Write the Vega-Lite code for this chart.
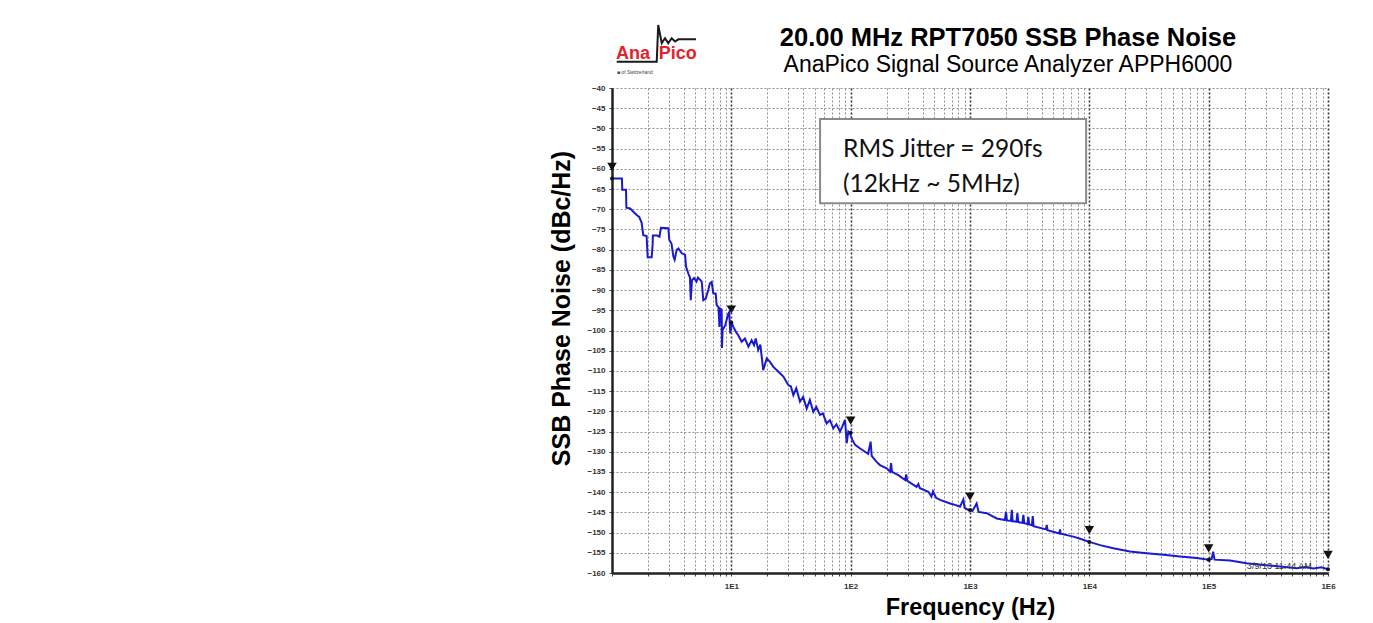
{
  "$schema": "https://vega.github.io/schema/vega-lite/v6.json",
  "width": 716,
  "height": 485,
  "autosize": {"type": "none"},
  "padding": {"left": 612, "top": 88, "right": 45, "bottom": 50},
  "background": "white",
  "config": {
    "view": {"stroke": null},
    "font": "Liberation Sans"
  },
  "title": {
    "text": "20.00 MHz RPT7050 SSB Phase Noise",
    "subtitle": "AnaPico Signal Source Analyzer APPH6000",
    "font": "Liberation Sans",
    "fontSize": 25.5,
    "fontWeight": "bold",
    "color": "#000000",
    "subtitleFont": "Liberation Sans",
    "subtitleFontSize": 23,
    "subtitleColor": "#000000",
    "subtitlePadding": 2,
    "anchor": "middle",
    "frame": "group",
    "dx": 38,
    "offset": -56
  },
  "datasets": {
    "noise": [
      {"f": 1, "db": -62.4}, {"f": 1.21, "db": -62.4}, {"f": 1.22, "db": -65.2}, {"f": 1.31, "db": -65.2},
      {"f": 1.32, "db": -69.6}, {"f": 1.42, "db": -69.8}, {"f": 1.51, "db": -70.6}, {"f": 1.61, "db": -71.4},
      {"f": 1.69, "db": -71.9}, {"f": 1.77, "db": -73.3}, {"f": 1.83, "db": -76.4}, {"f": 1.95, "db": -76.6},
      {"f": 1.99, "db": -81.9}, {"f": 2.15, "db": -81.9}, {"f": 2.19, "db": -78.8}, {"f": 2.2, "db": -76.5},
      {"f": 2.4, "db": -76.5}, {"f": 2.5, "db": -76.8}, {"f": 2.57, "db": -74.6}, {"f": 2.97, "db": -74.7},
      {"f": 3.02, "db": -77.6}, {"f": 3.15, "db": -78.5}, {"f": 3.27, "db": -81.7}, {"f": 3.35, "db": -82.5},
      {"f": 3.48, "db": -80.1}, {"f": 3.6, "db": -79.7}, {"f": 3.84, "db": -80.9}, {"f": 4.1, "db": -81.3},
      {"f": 4.17, "db": -84.2}, {"f": 4.36, "db": -85.9}, {"f": 4.5, "db": -86.9}, {"f": 4.57, "db": -92.5},
      {"f": 4.68, "db": -87.5}, {"f": 4.87, "db": -87.0}, {"f": 5.1, "db": -87.9}, {"f": 5.25, "db": -86.9},
      {"f": 5.46, "db": -87.4}, {"f": 5.65, "db": -87.9}, {"f": 5.82, "db": -92.5}, {"f": 6.1, "db": -92.1},
      {"f": 6.41, "db": -90.0}, {"f": 6.6, "db": -88.4}, {"f": 6.84, "db": -88.0}, {"f": 7.06, "db": -90.8},
      {"f": 7.4, "db": -90.9}, {"f": 7.53, "db": -93.7}, {"f": 7.8, "db": -94.2}, {"f": 7.95, "db": -99.1},
      {"f": 8.1, "db": -94.6}, {"f": 8.3, "db": -94.8}, {"f": 8.35, "db": -104.3}, {"f": 8.45, "db": -99.9},
      {"f": 8.9, "db": -98.7}, {"f": 9.4, "db": -95.9}, {"f": 9.6, "db": -95.5}, {"f": 9.8, "db": -100.7},
      {"f": 10.05, "db": -98.0}, {"f": 10.4, "db": -99.1}, {"f": 11.0, "db": -100.5}, {"f": 11.4, "db": -101.1},
      {"f": 12.2, "db": -102.8}, {"f": 13.0, "db": -102.0}, {"f": 13.9, "db": -104.0}, {"f": 14.8, "db": -102.4},
      {"f": 15.5, "db": -103.6}, {"f": 16.0, "db": -102.0}, {"f": 16.8, "db": -104.8}, {"f": 17.5, "db": -103.5},
      {"f": 18.5, "db": -109.8}, {"f": 19.8, "db": -106.9}, {"f": 21.0, "db": -107.7}, {"f": 22.5, "db": -109.0},
      {"f": 24.8, "db": -110.2}, {"f": 27.3, "db": -111.4}, {"f": 30.0, "db": -113.5}, {"f": 31.5, "db": -113.8},
      {"f": 33.1, "db": -116.0}, {"f": 35.0, "db": -114.3}, {"f": 37.6, "db": -117.6}, {"f": 40.0, "db": -116.4},
      {"f": 42.8, "db": -119.3}, {"f": 45.5, "db": -117.2}, {"f": 48.6, "db": -120.1}, {"f": 51.5, "db": -118.9},
      {"f": 55.3, "db": -120.9}, {"f": 58.5, "db": -120.5}, {"f": 62.9, "db": -123.0}, {"f": 67.0, "db": -122.2},
      {"f": 71.6, "db": -124.2}, {"f": 76.0, "db": -123.2}, {"f": 81.4, "db": -125.0}, {"f": 85.0, "db": -123.8},
      {"f": 89.7, "db": -122.1}, {"f": 92.6, "db": -127.9}, {"f": 95.5, "db": -125.0}, {"f": 98.7, "db": -125.5},
      {"f": 103, "db": -127.0}, {"f": 109, "db": -128.3}, {"f": 120, "db": -129.2}, {"f": 132, "db": -130.0},
      {"f": 140, "db": -130.5}, {"f": 147, "db": -127.5}, {"f": 150, "db": -131.0}, {"f": 165, "db": -132.5},
      {"f": 176, "db": -133.3}, {"f": 200, "db": -134.1}, {"f": 214, "db": -134.9}, {"f": 218, "db": -132.8},
      {"f": 222, "db": -135.0}, {"f": 251, "db": -135.8}, {"f": 286, "db": -137.0}, {"f": 292, "db": -135.6},
      {"f": 298, "db": -137.2}, {"f": 357, "db": -138.7}, {"f": 369, "db": -138.0}, {"f": 380, "db": -139.0},
      {"f": 448, "db": -139.9}, {"f": 475, "db": -141.1}, {"f": 490, "db": -139.8}, {"f": 520, "db": -141.4},
      {"f": 561, "db": -141.9}, {"f": 681, "db": -142.8}, {"f": 760, "db": -143.2}, {"f": 825, "db": -143.6},
      {"f": 880, "db": -141.8}, {"f": 900, "db": -143.9}, {"f": 969, "db": -144.4}, {"f": 1050, "db": -144.6},
      {"f": 1137, "db": -142.8}, {"f": 1180, "db": -144.9}, {"f": 1380, "db": -145.2}, {"f": 1675, "db": -146.5},
      {"f": 1960, "db": -146.9}, {"f": 2004, "db": -144.8}, {"f": 2040, "db": -147.0}, {"f": 2200, "db": -147.1},
      {"f": 2240, "db": -144.4}, {"f": 2280, "db": -147.2}, {"f": 2450, "db": -147.3}, {"f": 2496, "db": -145.2},
      {"f": 2540, "db": -147.4}, {"f": 2750, "db": -147.6}, {"f": 2800, "db": -145.6}, {"f": 2850, "db": -147.7},
      {"f": 3030, "db": -147.9}, {"f": 3083, "db": -146.1}, {"f": 3130, "db": -148.0}, {"f": 3300, "db": -148.2},
      {"f": 3357, "db": -145.9}, {"f": 3410, "db": -148.4}, {"f": 4330, "db": -149.2}, {"f": 4395, "db": -148.1},
      {"f": 4460, "db": -149.4}, {"f": 5600, "db": -150.2}, {"f": 5680, "db": -149.2}, {"f": 5760, "db": -150.3},
      {"f": 7340, "db": -151.0}, {"f": 8500, "db": -151.6}, {"f": 10000, "db": -152.3}, {"f": 12300, "db": -153.1},
      {"f": 15900, "db": -153.9}, {"f": 21900, "db": -154.7}, {"f": 30200, "db": -155.1}, {"f": 41800, "db": -155.5},
      {"f": 57600, "db": -155.9}, {"f": 79400, "db": -156.3}, {"f": 100000, "db": -156.7}, {"f": 106000, "db": -156.5},
      {"f": 109000, "db": -154.7}, {"f": 112000, "db": -156.7}, {"f": 151000, "db": -156.9}, {"f": 208000, "db": -157.6},
      {"f": 287000, "db": -158.0}, {"f": 396000, "db": -158.4}, {"f": 547000, "db": -158.8}, {"f": 650000, "db": -158.5},
      {"f": 754000, "db": -158.9}, {"f": 880000, "db": -158.6}, {"f": 1000000, "db": -159.1}
    ],
    "dots": [
      {"f": 1, "db": -62.4}, {"f": 10, "db": -98.0}, {"f": 100, "db": -125.3}, {"f": 1000, "db": -144.4},
      {"f": 10000, "db": -152.3}, {"f": 100000, "db": -156.7}, {"f": 1000000, "db": -159.1}
    ],
    "markers": [
      {"f": 1, "db": -59.5}, {"f": 10, "db": -94.8}, {"f": 100, "db": -122.3}, {"f": 1000, "db": -141.1},
      {"f": 10000, "db": -149.4}, {"f": 100000, "db": -153.9}, {"f": 1000000, "db": -155.5}
    ],
    "box": [{"f": 55.4, "f2": 9400, "db": -47.7, "db2": -68.5}],
    "boxtext": [
      {"f": 86.3, "db": -57.0, "label": "RMS Jitter = 290fs"},
      {"f": 86.3, "db": -65.8, "label": "(12kHz ~ 5MHz)"}
    ],
    "stamp": [{"f": 209000, "db": -158.3, "label": "3/9/13 11:44 AM"}],
    "logoline": [
      {"f": 1.095, "db": -33.5}, {"f": 2.37, "db": -33.5}, {"f": 2.44, "db": -24.4}, {"f": 2.61, "db": -28.9},
      {"f": 2.78, "db": -27.7}, {"f": 2.96, "db": -28.9}, {"f": 3.165, "db": -27.7}, {"f": 3.373, "db": -28.5},
      {"f": 3.594, "db": -27.95}, {"f": 5.06, "db": -27.95}
    ],
    "logotext": [
      {"f": 1.5, "db": -32.8, "label": "Ana"},
      {"f": 3.55, "db": -32.8, "label": "Pico"}
    ],
    "logosub": [{"f": 1.1, "db": -36.0, "label": "■ of Switzerland"}]
  },
  "encoding": {
    "x": {
      "field": "f", "type": "quantitative",
      "scale": {"type": "log", "domain": [1, 1000000], "nice": false},
      "axis": {
        "title": "Frequency (Hz)",
        "titleFont": "Liberation Sans",
        "titleFontSize": 23.5,
        "titleFontWeight": "bold",
        "titleColor": "#000000",
        "titlePadding": 5,
        "values": [1,2,3,4,5,6,7,8,9,10,20,30,40,50,60,70,80,90,100,200,300,400,500,600,700,800,900,1000,2000,3000,4000,5000,6000,7000,8000,9000,10000,20000,30000,40000,50000,60000,70000,80000,90000,100000,200000,300000,400000,500000,600000,700000,800000,900000,1000000],
        "labelExpr": "indexof([10,100,1000,10000,100000,1000000], datum.value) >= 0 ? '1E' + round(log(datum.value) / LN10) : ''",
        "labelFontSize": 8,
        "labelFontWeight": "bold",
        "labelColor": "#333333",
        "labelPadding": 6,
        "labelFlush": false,
        "labelOverlap": false,
        "domainColor": "#222222",
        "domainWidth": 2.5,
        "tickColor": "#444444",
        "tickSize": 3,
        "grid": true,
        "gridColor": {"condition": {"test": "indexof([10,100,1000,10000,100000,1000000], datum.value) >= 0", "value": "#333333"}, "value": "#8f8f8f"},
        "gridWidth": {"condition": {"test": "indexof([10,100,1000,10000,100000,1000000], datum.value) >= 0", "value": 1.6}, "value": 1},
        "gridDash": [2, 2]
      }
    },
    "y": {
      "field": "db", "type": "quantitative",
      "scale": {"domain": [-160, -40], "nice": false, "zero": false},
      "axis": {
        "title": "SSB Phase Noise (dBc/Hz)",
        "titleFont": "Liberation Sans",
        "titleFontSize": 25,
        "titleFontWeight": "bold",
        "titleColor": "#000000",
        "titlePadding": 12,
        "titleY": 220,
        "values": [-40,-45,-50,-55,-60,-65,-70,-75,-80,-85,-90,-95,-100,-105,-110,-115,-120,-125,-130,-135,-140,-145,-150,-155,-160],
        "tickCount": 25,
        "labelFontSize": 8,
        "labelFontWeight": "bold",
        "labelColor": "#333333",
        "labelPadding": 4,
        "labelFlush": false,
        "labelOverlap": false,
        "labelBound": false,
        "domainColor": "#222222",
        "domainWidth": 2.5,
        "tickColor": "#444444",
        "tickSize": 3,
        "grid": true,
        "gridColor": "#8f8f8f",
        "gridDash": [2, 2]
      }
    }
  },
  "layer": [
    {
      "data": {"name": "box"},
      "mark": {"type": "rect", "fill": "#ffffff", "stroke": "#8a8a8a", "strokeWidth": 2},
      "encoding": {
        "x2": {"field": "f2"},
        "y2": {"field": "db2"}
      }
    },
    {
      "data": {"name": "noise"},
      "mark": {"type": "line", "color": "#1a1ad0", "strokeWidth": 2, "clip": true},
      "encoding": {
        "order": {"value": null}
      }
    },
    {
      "data": {"name": "dots"},
      "mark": {"type": "point", "filled": true, "color": "#111111", "size": 16, "opacity": 1, "clip": false}
    },
    {
      "data": {"name": "markers"},
      "mark": {"type": "point", "shape": "triangle-down", "filled": true, "color": "#111111", "size": 90, "opacity": 1, "clip": false}
    },
    {
      "data": {"name": "boxtext"},
      "mark": {"type": "text", "align": "left", "baseline": "alphabetic", "font": "Lato", "fontSize": 24.5, "color": "#111111"},
      "encoding": {
        "text": {"field": "label"}
      }
    },
    {
      "data": {"name": "stamp"},
      "mark": {"type": "text", "align": "left", "baseline": "middle", "font": "Liberation Sans", "fontSize": 9, "color": "#333333"},
      "encoding": {
        "text": {"field": "label"}
      }
    },
    {
      "data": {"name": "logoline"},
      "mark": {"type": "line", "color": "#1a1a1a", "strokeWidth": 2, "clip": false},
      "encoding": {
        "order": {"value": null}
      }
    },
    {
      "data": {"name": "logotext"},
      "mark": {"type": "text", "align": "center", "baseline": "alphabetic", "font": "Liberation Sans", "fontWeight": "bold", "fontSize": 18, "color": "#e3232b"},
      "encoding": {
        "text": {"field": "label"}
      }
    },
    {
      "data": {"name": "logosub"},
      "mark": {"type": "text", "align": "left", "baseline": "middle", "font": "Liberation Sans", "fontSize": 5, "color": "#444444"},
      "encoding": {
        "text": {"field": "label"}
      }
    }
  ]
}
